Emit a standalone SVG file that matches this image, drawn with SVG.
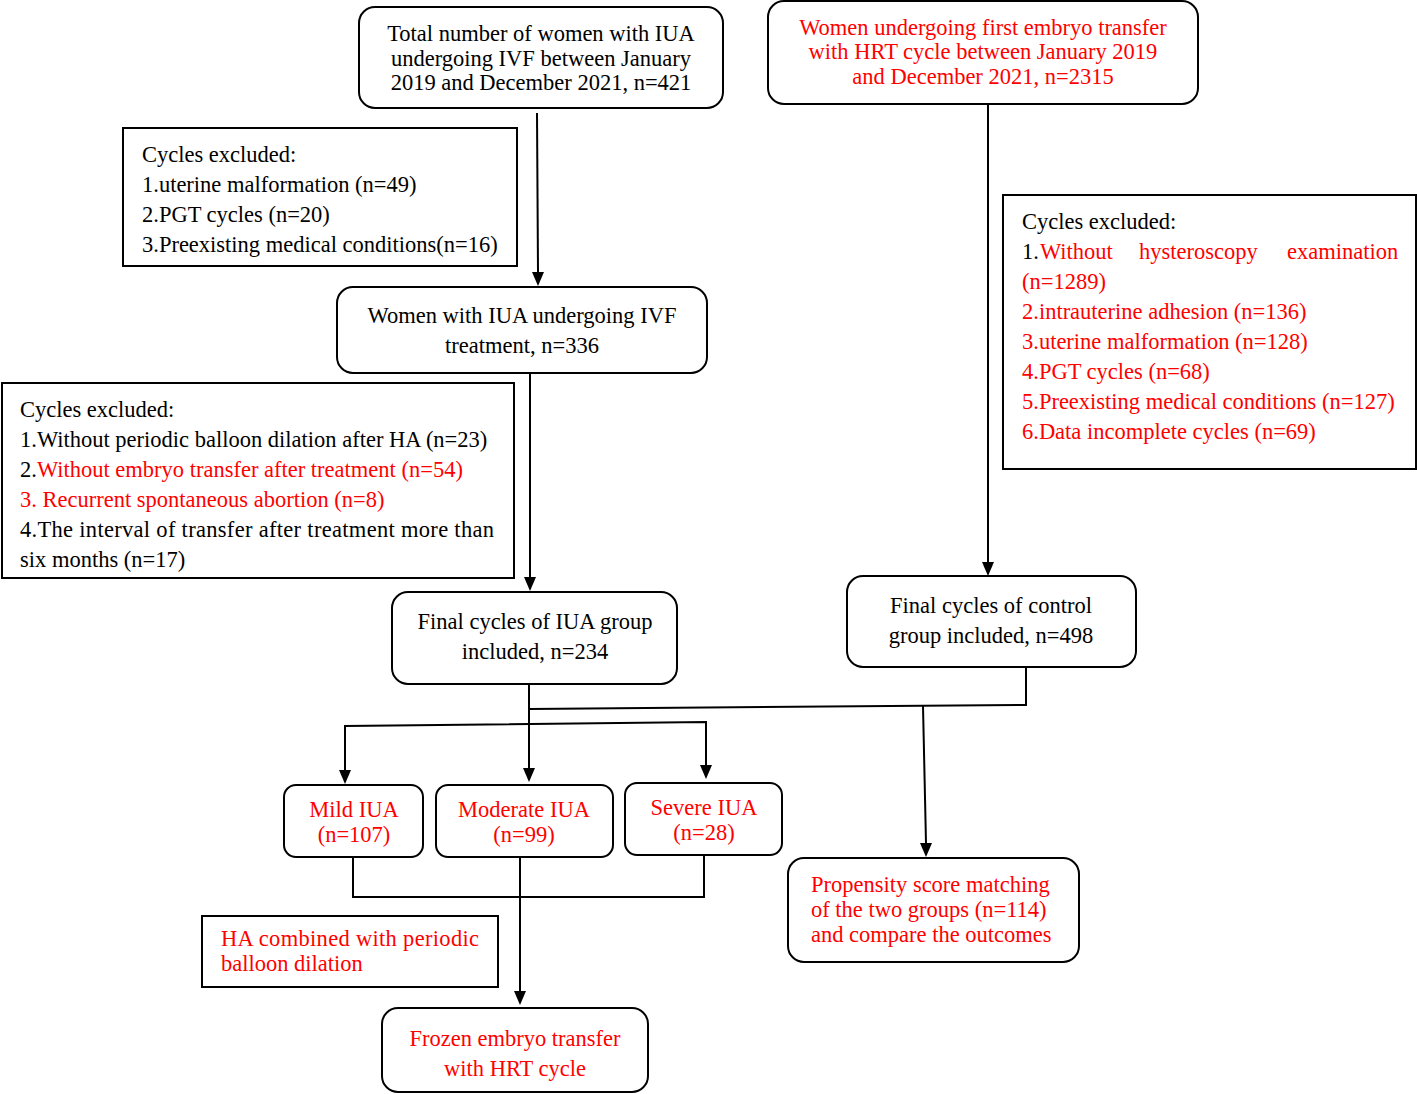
<svg xmlns="http://www.w3.org/2000/svg" width="1417" height="1094" viewBox="0 0 1417 1094">
<style>
text{font-family:"Liberation Serif","Times New Roman",serif;font-size:22.5px;fill:#000}
.r{fill:#ff0000}
.c{text-anchor:middle}
.box{fill:#fff;stroke:#000;stroke-width:2}
.ln{fill:none;stroke:#000;stroke-width:2}
</style>
<rect width="1417" height="1094" fill="#fff"/>
<g id="connectors">
<path class="ln" d="M537,113 L538,272"/>
<path d="M532,272 L544,272 L538,286 Z"/>
<path class="ln" d="M530,373 L530,577"/>
<path d="M524,577 L536,577 L530,591 Z"/>
<path class="ln" d="M988,104 L988,562"/>
<path d="M982,562 L994,562 L988,576 Z"/>
<path class="ln" d="M529,684 L529,769"/>
<path d="M523,768 L535,768 L529,782 Z"/>
<path class="ln" d="M529,709 L1026,705 L1026,667"/>
<path class="ln" d="M923,706 L926,843"/>
<path d="M920,843 L932,843 L926,857 Z"/>
<path class="ln" d="M345,770 L345,726 L706,722 L706,765"/>
<path d="M339,770 L351,770 L345,784 Z"/>
<path d="M700,765 L712,765 L706,779 Z"/>
<path class="ln" d="M353,857 L353,897 L704,897 L704,855"/>
<path class="ln" d="M520,857 L520,992"/>
<path d="M514,991 L526,991 L520,1005 Z"/>
</g>
<g id="n1">
<rect class="box" x="359" y="7" width="364" height="101" rx="16"/>
<text class="c" x="541" y="41">Total number of women with IUA</text>
<text class="c" x="541" y="66">undergoing IVF between January</text>
<text class="c" x="541" y="90">2019 and December 2021, n=421</text>
</g>
<g id="n2">
<rect class="box" x="768" y="1" width="430" height="103" rx="16"/>
<text class="c r" x="983" y="35">Women undergoing first embryo transfer</text>
<text class="c r" x="983" y="59">with HRT cycle between January 2019</text>
<text class="c r" x="983" y="84">and December 2021, n=2315</text>
</g>
<g id="n3">
<rect class="box" x="123" y="128" width="394" height="138"/>
<text x="142" y="162">Cycles excluded:</text>
<text x="142" y="192">1.uterine malformation (n=49)</text>
<text x="142" y="222">2.PGT cycles (n=20)</text>
<text x="142" y="252">3.Preexisting medical conditions(n=16)</text>
</g>
<g id="n4">
<rect class="box" x="337" y="287" width="370" height="86" rx="16"/>
<text class="c" x="522" y="323">Women with IUA undergoing IVF</text>
<text class="c" x="522" y="353">treatment, n=336</text>
</g>
<g id="n5">
<rect class="box" x="2" y="383" width="512" height="195"/>
<text x="20" y="417">Cycles excluded:</text>
<text x="20" y="447">1.Without periodic balloon dilation after HA (n=23)</text>
<text x="20" y="477">2.<tspan class="r">Without embryo transfer after treatment (n=54)</tspan></text>
<text x="20" y="507" class="r">3. Recurrent spontaneous abortion (n=8)</text>
<text x="20" y="537" textLength="474" lengthAdjust="spacing">4.The interval of transfer after treatment more than</text>
<text x="20" y="567">six months (n=17)</text>
</g>
<g id="n6">
<rect class="box" x="392" y="592" width="285" height="92" rx="16"/>
<text class="c" x="535" y="629">Final cycles of IUA group</text>
<text class="c" x="535" y="659">included, n=234</text>
</g>
<g id="n7">
<rect class="box" x="1003" y="195" width="413" height="274"/>
<text x="1022" y="229">Cycles excluded:</text>
<text y="259"><tspan x="1022">1.</tspan><tspan class="r" x="1040">Without</tspan><tspan class="r" x="1139">hysteroscopy</tspan><tspan class="r" x="1287">examination</tspan></text>
<text class="r" x="1022" y="289">(n=1289)</text>
<text class="r" x="1022" y="319">2.intrauterine adhesion (n=136)</text>
<text class="r" x="1022" y="349">3.uterine malformation (n=128)</text>
<text class="r" x="1022" y="379">4.PGT cycles (n=68)</text>
<text class="r" x="1022" y="409">5.Preexisting medical conditions (n=127)</text>
<text class="r" x="1022" y="439">6.Data incomplete cycles (n=69)</text>
</g>
<g id="n8">
<rect class="box" x="847" y="576" width="289" height="91" rx="16"/>
<text class="c" x="991" y="613">Final cycles of control</text>
<text class="c" x="991" y="643">group included, n=498</text>
</g>
<g id="n9">
<rect class="box" x="284" y="785" width="139" height="72" rx="12"/>
<text class="c r" x="354" y="817">Mild IUA</text>
<text class="c r" x="354" y="842">(n=107)</text>
</g>
<g id="n10">
<rect class="box" x="436" y="785" width="177" height="72" rx="12"/>
<text class="c r" x="524" y="817">Moderate IUA</text>
<text class="c r" x="524" y="842">(n=99)</text>
</g>
<g id="n11">
<rect class="box" x="625" y="783" width="157" height="72" rx="12"/>
<text class="c r" x="704" y="815">Severe IUA</text>
<text class="c r" x="704" y="840">(n=28)</text>
</g>
<g id="n12">
<rect class="box" x="202" y="916" width="296" height="71"/>
<text class="r" x="221" y="946" textLength="258" lengthAdjust="spacing">HA combined with periodic</text>
<text class="r" x="221" y="971">balloon dilation</text>
</g>
<g id="n13">
<rect class="box" x="382" y="1008" width="266" height="84" rx="16"/>
<text class="c r" x="515" y="1046">Frozen embryo transfer</text>
<text class="c r" x="515" y="1076">with HRT cycle</text>
</g>
<g id="n14">
<rect class="box" x="788" y="858" width="291" height="104" rx="16"/>
<text class="r" x="811" y="892">Propensity score matching</text>
<text class="r" x="811" y="917">of the two groups (n=114)</text>
<text class="r" x="811" y="942">and compare the outcomes</text>
</g>
</svg>
